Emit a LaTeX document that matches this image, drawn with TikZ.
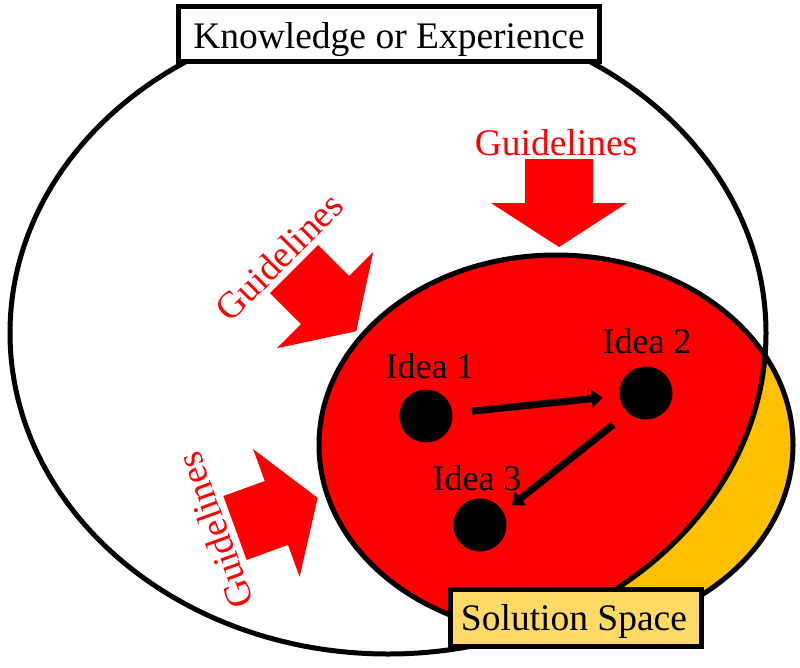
\documentclass[tikz,border=0pt]{standalone}
\usepackage{fontspec}
\setmainfont{Liberation Serif}
\usetikzlibrary{arrows.meta}
\definecolor{ssred}{HTML}{FF0000}
\definecolor{ssyellow}{HTML}{FFC000}
\definecolor{ssbox}{HTML}{FFD966}
\tikzset{
  outline/.style={draw=black, line width=5pt},
  labelbox/.style={draw=black, line width=5pt, inner sep=0pt, rectangle},
  guidetext/.style={text=ssred, font=\fontsize{37.5}{40}\selectfont, inner sep=0pt},
  boxtext/.style={font=\fontsize{37.5}{40}\selectfont, inner sep=0pt, anchor=base},
  ideatext/.style={font=\fontsize{36}{40}\selectfont, inner sep=0pt, anchor=base},
  idea/.style={circle, fill=black, minimum size=53pt, inner sep=0pt},
  ideaarrow/.style={line width=7pt, -{Triangle[length=11pt,width=18pt]}},
  guidearrow/.pic={\fill[ssred] (0,-34) -- (44,-34) -- (44,-68) -- (88,0) -- (44,68) -- (44,34) -- (0,34) -- cycle;}
}
\begin{document}
\begin{tikzpicture}[x=1pt,y=-1pt]
\useasboundingbox (0,0) rectangle (800,667);
\fill[white] (0,0) rectangle (800,667);
\coordinate (bigc) at (388,333);
\coordinate (smc) at (556,445);
% solution space ellipse
\fill[ssyellow] (smc) ellipse [x radius=237, y radius=190];
\begin{scope}
  \clip (bigc) ellipse [x radius=378, y radius=321];
  \fill[ssred] (smc) ellipse [x radius=237, y radius=190];
\end{scope}
\draw[outline] (smc) ellipse [x radius=237, y radius=190];
\draw[outline] (bigc) ellipse [x radius=378, y radius=321];
% boxes
\node[labelbox, fill=white, minimum width=421, minimum height=55] (kbox) at (388.5,33.5) {};
\node[boxtext] (ktext) at (389,48) {Knowledge or Experience};
\node[labelbox, fill=ssbox, minimum width=251, minimum height=57] (sbox) at (575.5,617.5) {};
\node[boxtext] (stext) at (574,630) {Solution Space};
% guideline arrows
\pic[rotate=-90] at (559,159) {guidearrow};
\pic[rotate=-45] at (294,269) {guidearrow};
\pic[rotate=20] at (235,528) {guidearrow};
\node[guidetext, anchor=base] (g1) at (556,155) {Guidelines};
\node[guidetext, rotate=45] (g2) at (279,257) {Guidelines};
\node[guidetext, rotate=110] (g3) at (215,531) {Guidelines};
% ideas
\node[idea] (d1) at (426,416) {};
\node[idea] (d2) at (646,393) {};
\node[idea] (d3) at (480,525) {};
\node[ideatext] (t1) at (430,378) {Idea 1};
\node[ideatext] (t2) at (647,353) {Idea 2};
\node[ideatext] (t3) at (477,490) {Idea 3};
\draw[ideaarrow, shorten <=19.5pt, shorten >=17pt] (d1) -- (d2);
\draw[ideaarrow, shorten <=19pt, shorten >=11pt] (d2.228) -- (d3.29);
\end{tikzpicture}
\end{document}
